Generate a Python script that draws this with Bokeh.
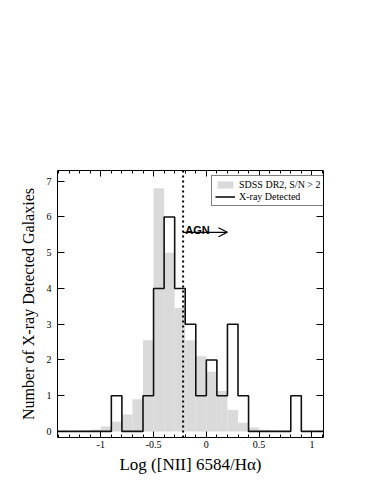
from bokeh.plotting import figure
from bokeh.models import (Range1d, LinearAxis, FixedTicker, Span, Arrow, OpenHead,
                          Legend, LegendItem, CustomJSTickFormatter, Label)
from bokeh.embed import file_html
from bokeh.resources import INLINE

# ---- data ----
# SDSS DR2 (S/N > 2), normalised histogram, bins of width 0.1
sdss_left = [-1.3, -1.2, -1.1, -1.0, -0.9, -0.8, -0.7, -0.6, -0.5, -0.4, -0.3, -0.2,
             -0.1, 0.0, 0.1, 0.2, 0.3, 0.4, 0.5, 0.6, 0.7]
sdss_height = [0.01, 0.02, 0.05, 0.14, 0.27, 0.47, 0.9, 2.55, 6.8, 5.0, 3.45, 2.55,
               2.1, 1.67, 1.13, 0.6, 0.24, 0.11, 0.05, 0.02, 0.01]
bin_width = 0.1

# X-ray detected galaxies, counts per bin
xray_left = [-1.5, -1.4, -1.3, -1.2, -1.1, -1.0, -0.9, -0.8, -0.7, -0.6, -0.5, -0.4,
             -0.3, -0.2, -0.1, 0.0, 0.1, 0.2, 0.3, 0.4, 0.5, 0.6, 0.7, 0.8, 0.9,
             1.0, 1.1]
xray_count = [0, 0, 0, 0, 0, 0, 1, 0, 0, 1, 4, 6,
              4, 3, 1, 2, 1, 3, 1, 0, 0, 0, 0, 1, 0,
              0, 0]

agn_line_x = -0.22
arrow_x = [-0.22, 0.2]
arrow_y = 5.57
agn_label_x = -0.2
agn_label_y = 5.63

x_ticks = [-1, -0.5, 0, 0.5, 1]
x_tick_labels = ["-1", "-0.5", "0", "0.5", "1"]
x_minor = [round(-1.4 + 0.1 * i, 1) for i in range(26)]
y_ticks = [0, 1, 2, 3, 4, 5, 6, 7]

SERIF = "Liberation Serif"

p = figure(width=375, height=485, output_backend="svg", toolbar_location=None,
           x_range=Range1d(-1.41, 1.11), y_range=Range1d(-0.17, 7.3),
           min_border_left=57, min_border_right=52, min_border_top=170,
           min_border_bottom=48, x_axis_location=None, y_axis_location=None)
p.grid.visible = False
p.outline_line_color = "black"
p.outline_line_width = 1
p.background_fill_color = "white"
p.border_fill_color = "white"

# gray histogram
sdss_right = [l + bin_width for l in sdss_left]
gray = p.quad(left=sdss_left, right=sdss_right, bottom=0, top=sdss_height,
              fill_color="#dadada", line_color=None)

# AGN dividing line
p.add_layout(Span(location=agn_line_x, dimension="height", line_color="black",
                  line_width=2, line_dash="2 3"))

# X-ray step histogram
xs, ys = [], []
for l, c in zip(xray_left, xray_count):
    xs += [l, l + bin_width]
    ys += [c, c]
xl = p.line(xs, ys, line_color="#111111", line_width=1.6)

# arrow + AGN label
p.add_layout(Arrow(end=OpenHead(size=9, line_width=1.2, line_color="black"),
                   x_start=arrow_x[0], x_end=arrow_x[1], y_start=arrow_y, y_end=arrow_y,
                   line_width=1.2, line_color="black"))
p.add_layout(Label(x=agn_label_x, y=agn_label_y, text="AGN",
                   text_font="Liberation Sans", text_font_style="bold",
                   text_color="black",
                   text_font_size="11px", text_baseline="alphabetic", text_align="left"))

# axes
def style(ax, labels=True):
    ax.axis_line_color = None
    ax.major_tick_in = 6
    ax.major_tick_out = 0
    ax.minor_tick_in = 3
    ax.minor_tick_out = 0
    ax.major_tick_line_color = "black"
    ax.minor_tick_line_color = "black"
    ax.major_label_text_font = SERIF
    ax.major_label_text_font_size = "10px"
    ax.major_label_text_color = "black"
    ax.axis_label_text_font = SERIF
    ax.axis_label_text_font_style = "normal"
    ax.axis_label_text_color = "black"
    if not labels:
        ax.formatter = CustomJSTickFormatter(code="return ''")

xb = LinearAxis(ticker=FixedTicker(ticks=x_ticks, minor_ticks=x_minor),
                axis_label="Log ([NII] 6584/H\u03b1)")
style(xb)
xb.major_label_overrides = {t: s for t, s in zip(x_ticks, x_tick_labels)}
xb.major_label_standoff = 3
xb.axis_label_standoff = 4
xb.axis_label_text_font_size = "17px"
p.add_layout(xb, "below")

xt = LinearAxis(ticker=FixedTicker(ticks=x_ticks, minor_ticks=x_minor))
style(xt, labels=False)
p.add_layout(xt, "above")

yl = LinearAxis(ticker=FixedTicker(ticks=y_ticks, minor_ticks=[]),
                axis_label="Number of X-ray Detected Galaxies")
style(yl)
yl.major_tick_in = 7
yl.major_label_standoff = 6
yl.axis_label_standoff = 7
yl.axis_label_text_font_size = "16px"
p.add_layout(yl, "left")

yr = LinearAxis(ticker=FixedTicker(ticks=y_ticks, minor_ticks=[]))
style(yr, labels=False)
yr.major_tick_in = 7
p.add_layout(yr, "right")

legend = Legend(items=[LegendItem(label="SDSS DR2, S/N > 2", renderers=[gray]),
                       LegendItem(label="X-ray Detected", renderers=[xl])],
                location=(154, 231))
legend.label_text_font = SERIF
legend.label_text_font_size = "10px"
legend.label_text_color = "black"
legend.label_height = 11
legend.glyph_height = 9
legend.glyph_width = 20
legend.spacing = 1
legend.padding = 3
legend.margin = 0
legend.label_standoff = 4
legend.border_line_color = "black"
legend.border_line_width = 1
legend.background_fill_alpha = 1
p.add_layout(legend, "center")

open("out.html", "w").write(file_html(p, INLINE))
